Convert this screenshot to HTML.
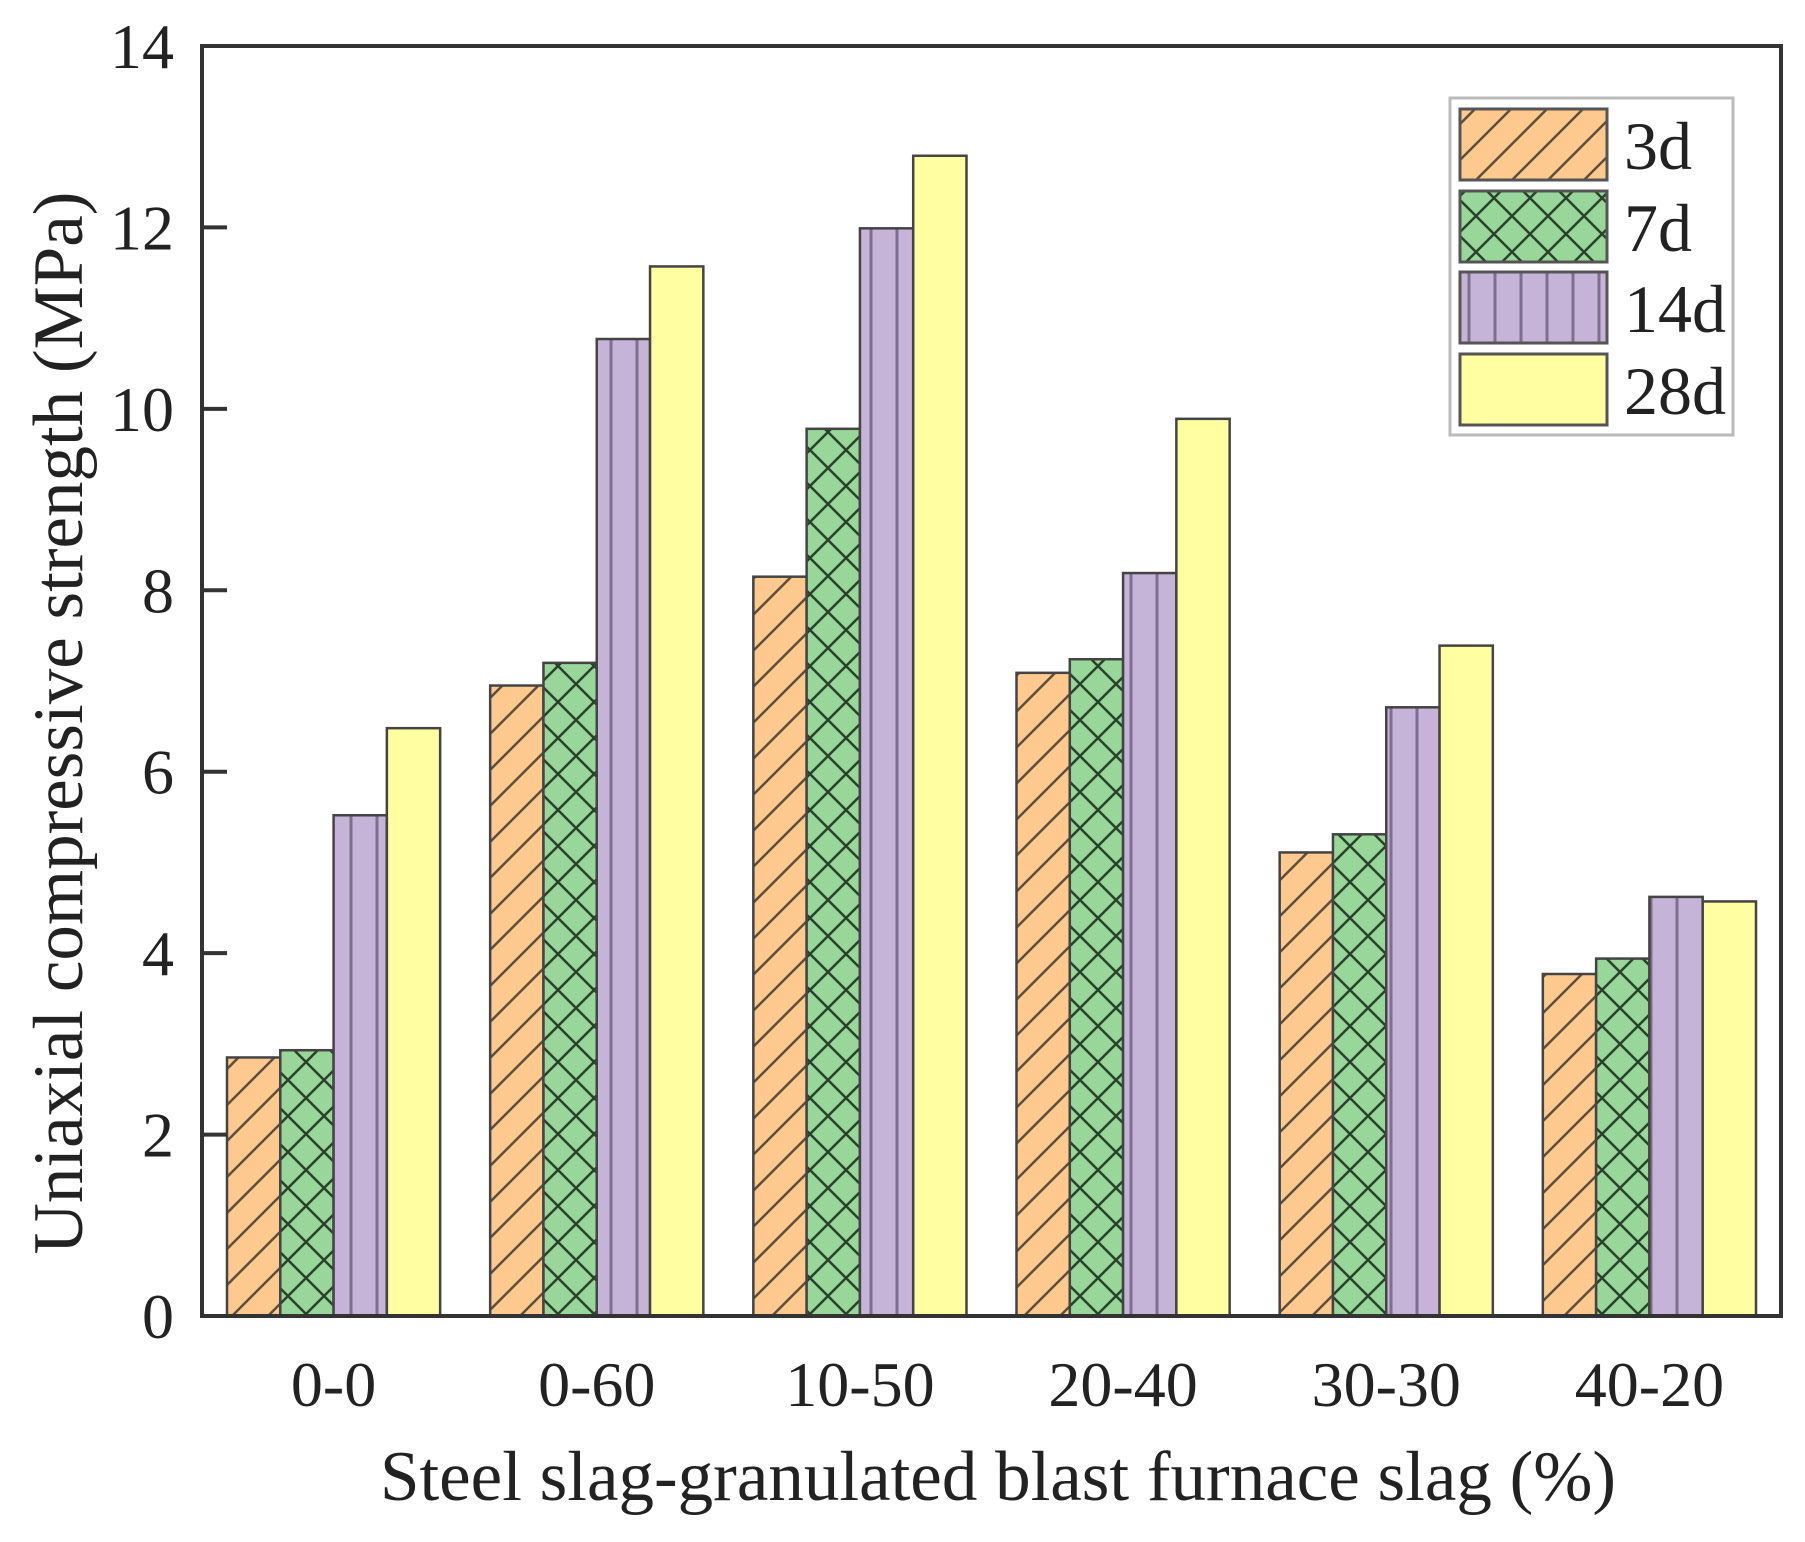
<!DOCTYPE html>
<html><head><meta charset="utf-8"><style>
body{margin:0;background:#fff}
svg{display:block;font-family:"Liberation Serif",serif}
</style></head><body>
<svg id="chart" width="1805" height="1542" viewBox="0 0 1805 1542" xmlns="http://www.w3.org/2000/svg">
<defs>
<pattern id="p3" patternUnits="userSpaceOnUse" width="36" height="36"><rect width="36" height="36" fill="#fdc98e"/><path d="M-9,45 L45,-9 M-9,9 L9,-9 M27,45 L45,27" stroke="#5e4e3c" stroke-width="2.5"/></pattern>
<pattern id="p7" patternUnits="userSpaceOnUse" width="36" height="36"><rect width="36" height="36" fill="#98d69a"/><path d="M0,0 L36,36 M36,0 L0,36" stroke="#2a422b" stroke-width="2.5"/></pattern>
<pattern id="p14" patternUnits="userSpaceOnUse" width="26" height="26"><rect width="26" height="26" fill="#c6b3d8"/><path d="M13,0 L13,26" stroke="#7e6f8c" stroke-width="3"/></pattern>
</defs>
<g id="plot"></g>
</svg>
<script>
const categories=["0-0","0-60","10-50","20-40","30-30","40-20"];
const seriesNames=["3d","7d","14d","28d"];
const s3d=[2.85,6.95,8.15,7.09,5.11,3.77];
const s7d=[2.93,7.2,9.78,7.24,5.31,3.94];
const s14d=[5.52,10.77,11.99,8.19,6.71,4.62];
const s28d=[6.48,11.57,12.79,9.89,7.39,4.57];
const yTicks=[0,2,4,6,8,10,12,14];
const series=[s3d,s7d,s14d,s28d];
const fills=["url(#p3)","url(#p7)","url(#p14)","#fffea0"];
const L=202,R=1781,T=46,B=1316,YMAX=14;
const ns="http://www.w3.org/2000/svg";
const g=document.getElementById('plot');
function y(v){return B-(v/YMAX)*(B-T);}
const gw=(R-L)/categories.length, bw=gw*0.81/4;
function x(ci,si){return L+gw*ci+(gw-4*bw)/2+si*bw;}
function mk(t,a,p){const e=document.createElementNS(ns,t);for(const k in a)e.setAttribute(k,a[k]);(p||g).appendChild(e);return e;}
series.forEach((s,si)=>s.forEach((v,ci)=>{
 const r=mk('rect',{x:x(ci,si),y:y(v),width:bw,height:B-y(v),fill:fills[si],stroke:'#444','stroke-width':2.5});
 
 
}));
const ax=mk('rect',{x:L,y:T,width:R-L,height:B-T,fill:'none',stroke:'#333','stroke-width':4});


yTicks.forEach(t=>{
 if(t>0&&t<YMAX){const l=mk('line',{x1:L,x2:L+25,y1:y(t),y2:y(t),stroke:'#333','stroke-width':4});
 
 }
 const tx=mk('text',{x:174,y:y(t)+22,'text-anchor':'end','font-size':64,fill:'#222'});tx.textContent=t;
 
 
});
categories.forEach((c,ci)=>{
 const tx=mk('text',{x:L+gw*(ci+0.5),y:1406,'text-anchor':'middle','font-size':64,fill:'#222'});tx.textContent=c;
 
 
});
const xt=mk('text',{x:998,y:1500,'text-anchor':'middle','font-size':71,fill:'#222'});xt.textContent='Steel slag-granulated blast furnace slag (%)';


const yt=mk('text',{x:0,y:0,'text-anchor':'middle','font-size':71,fill:'#222',transform:'translate(82,723) rotate(-90)'});yt.textContent='Uniaxial compressive strength (MPa)';


const lg=mk('g',{});


mk('rect',{x:1450,y:98,width:283,height:337,fill:'#fff',stroke:'#bbb','stroke-width':3},lg);
const rowsY=[109,191,272,354];
seriesNames.forEach((n,i)=>{
 const sw=mk('rect',{x:1460,y:rowsY[i],width:147,height:71,fill:fills[i],stroke:'#555','stroke-width':3},lg);
 
 
 const t=mk('text',{x:1624,y:rowsY[i]+60,'font-size':68,fill:'#222'},lg);t.textContent=n;
 
 
});
</script>
</body></html>
